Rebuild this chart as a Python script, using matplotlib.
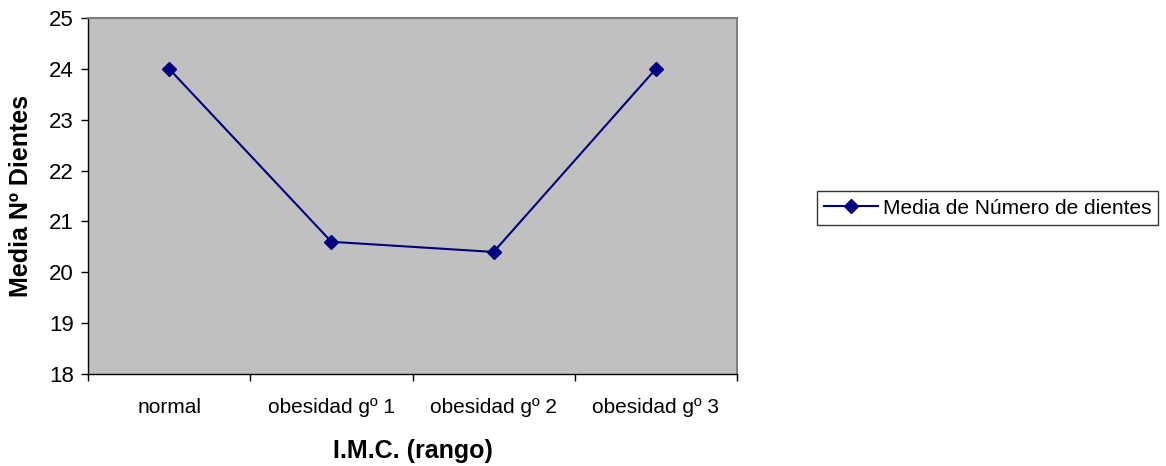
import matplotlib
matplotlib.use('Agg')
import matplotlib.pyplot as plt
from matplotlib.ticker import FixedLocator, NullFormatter

plt.rcParams.update({
    'font.family': ['Liberation Sans', 'DejaVu Sans'],
    'figure.facecolor': 'white',
})

NAVY = '#000080'
PLOT_BG = '#c0c0c0'

# --- Data ---
categories = ['normal', 'obesidad gº 1', 'obesidad gº 2', 'obesidad gº 3']
media_dientes = [24.0, 20.6, 20.4, 24.0]
yticks = [18, 19, 20, 21, 22, 23, 24, 25]

# --- Plot ---
fig = plt.figure(figsize=(11.66, 4.66), dpi=100)
ax = fig.add_axes([88 / 1166, 1 - 374 / 466, (737 - 88) / 1166, (374 - 18) / 466])
ax.set_facecolor(PLOT_BG)

x = list(range(len(categories)))
ax.plot(x, media_dientes, color=NAVY, linewidth=1.5, marker='D', markersize=7,
        label='Media de Número de dientes', zorder=5)

ax.set_xlim(-0.5, len(categories) - 0.5)
ax.set_ylim(yticks[0], yticks[-1])
ax.set_yticks(yticks)
ax.tick_params(axis='y', labelsize=16, length=5, width=1, direction='out', pad=5)

# category labels sit between the tick marks at the bin edges
ax.xaxis.set_major_locator(FixedLocator([i - 0.5 for i in range(len(categories) + 1)]))
ax.xaxis.set_major_formatter(NullFormatter())
ax.xaxis.set_minor_locator(FixedLocator(x))
ax.set_xticklabels(categories, minor=True)
ax.tick_params(axis='x', which='major', length=5, width=1, direction='out')
ax.tick_params(axis='x', which='minor', length=0, labelsize=15, pad=17)

for side in ('top', 'right'):
    ax.spines[side].set_color('#808080')
    ax.spines[side].set_linewidth(1.5)
for side in ('left', 'bottom'):
    ax.spines[side].set_color('black')
    ax.spines[side].set_linewidth(1)

ax.set_xlabel('I.M.C. (rango)', fontsize=18, fontweight='bold', labelpad=16)
ax.set_ylabel('Media Nº Dientes', fontsize=18, fontweight='bold', labelpad=12)

leg = fig.legend(loc='center left', bbox_to_anchor=(817 / 1166, 1 - 208 / 466),
                 fontsize=15, frameon=True, fancybox=False, edgecolor='black',
                 handlelength=2.6, handletextpad=0.2, borderpad=0.35,
                 borderaxespad=0)
leg.get_frame().set_linewidth(1)

fig.savefig('out.png', dpi=100)
plt.close()
